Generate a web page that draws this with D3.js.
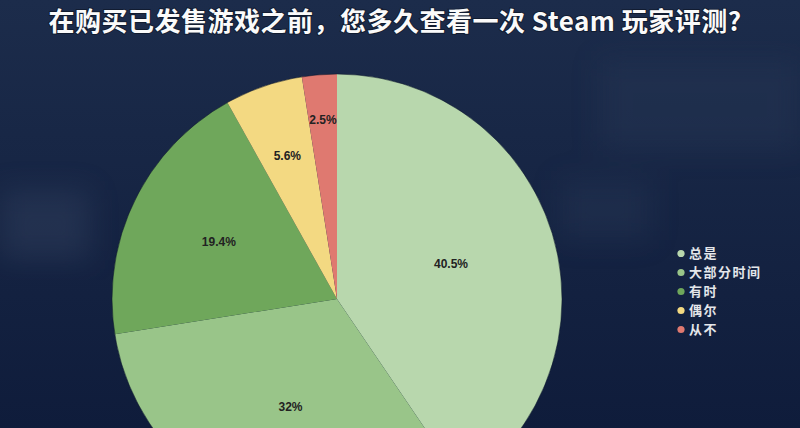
<!DOCTYPE html>
<html lang="zh">
<head>
<meta charset="UTF-8">
<title>Steam 玩家评测</title>
<style>
  body { margin: 0; background: #13213f; }
  svg { display: block; }
  .title { font-family: "Noto Sans CJK SC", "Noto Sans", sans-serif; font-weight: 700; font-size: 26px; letter-spacing: 0.5px; fill: #fafafa; }
  .slice-label { font-family: "Liberation Sans", Arial, sans-serif; font-weight: 700; font-size: 12px; fill: #222; }
  .legend text { font-family: "Noto Sans CJK SC", sans-serif; font-weight: 700; font-size: 13px; letter-spacing: 1.5px; fill: #e4e6ea; }
</style>
</head>
<body>
<script src="https://d3js.org/d3.v7.min.js"></script>
<script>
// data
var categories = ["总是", "大部分时间", "有时", "偶尔", "从不"];
var shares = [40.5, 32, 19.4, 5.6, 2.5];
var colours = ["#b8d7ad", "#99c589", "#6fa75b", "#f3d982", "#df7970"];
var labels = ["40.5%", "32%", "19.4%", "5.6%", "2.5%"];
var titleText = "在购买已发售游戏之前，您多久查看一次 Steam 玩家评测?";

var width = 800, height = 428;
var cx = 337, cy = 299, radius = 225;

var svg = d3.select("body").append("svg")
    .attr("width", width)
    .attr("height", height);

// background: dark navy, a bit blurry
var defs = svg.append("defs");
var bg = defs.append("linearGradient").attr("id", "bg")
    .attr("x1", 0).attr("y1", 0).attr("x2", 0).attr("y2", 1);
bg.append("stop").attr("offset", "0%").attr("stop-color", "#1c2c4b");
bg.append("stop").attr("offset", "100%").attr("stop-color", "#0f1c3b");
defs.append("filter").attr("id", "blur")
  .append("feGaussianBlur").attr("stdDeviation", 14);

svg.append("rect").attr("width", width).attr("height", height).attr("fill", "url(#bg)");
var haze = svg.append("g").attr("filter", "url(#blur)").attr("opacity", 0.35);
haze.append("rect").attr("x", 0).attr("y", 190).attr("width", 90).attr("height", 70).attr("fill", "#3a4a66");
haze.append("rect").attr("x", 600).attr("y", 60).attr("width", 200).attr("height", 90).attr("fill", "#2c3b58");
haze.append("rect").attr("x", 560).attr("y", 180).attr("width", 90).attr("height", 60).attr("fill", "#2a3a58");

// title
svg.append("text")
    .attr("class", "title")
    .attr("x", 395)
    .attr("y", 31)
    .attr("text-anchor", "middle")
    .style("paint-order", "stroke")
    .attr("stroke", "rgba(0,0,0,0.35)")
    .attr("stroke-width", 2)
    .text(titleText);

// pie
var data = categories.map(function(c, i) {
  return { name: c, value: shares[i], colour: colours[i], label: labels[i] };
});

var pie = d3.pie()
    .value(function(d) { return d.value; })
    .sort(null);

var arc = d3.arc().innerRadius(0).outerRadius(radius);

// small slices push their label outward so it fits
var labelRadius = d3.scaleLinear()
    .domain([0.025, 0.056, 0.2, 0.32, 0.4])
    .range([0.80, 0.675, 0.58, 0.52, 0.53])
    .clamp(true);

var g = svg.append("g").attr("transform", "translate(" + cx + "," + cy + ")");
var arcs = pie(data);

g.selectAll("path")
    .data(arcs)
    .enter().append("path")
    .attr("d", arc)
    .attr("fill", function(d) { return d.data.colour; });

g.append("circle")
    .attr("r", radius)
    .attr("fill", "none")
    .attr("stroke", "rgba(10,20,40,0.5)")
    .attr("stroke-width", 1);

g.selectAll(".slice-label")
    .data(arcs)
    .enter().append("text")
    .attr("class", "slice-label")
    .attr("text-anchor", "middle")
    .attr("dy", "0.35em")
    .attr("transform", function(d) {
      var frac = (d.endAngle - d.startAngle) / (2 * Math.PI);
      var r = radius * labelRadius(frac);
      var a = (d.startAngle + d.endAngle) / 2;
      return "translate(" + (r * Math.sin(a)) + "," + (-r * Math.cos(a)) + ")";
    })
    .text(function(d) { return d.data.label; });

// legend
var legendY = d3.scalePoint()
    .domain(categories)
    .range([253.5, 329.5]);

var legend = svg.append("g").attr("class", "legend");
var item = legend.selectAll("g")
    .data(data)
    .enter().append("g")
    .attr("transform", function(d) { return "translate(681," + legendY(d.name) + ")"; });

item.append("circle")
    .attr("r", 3.6)
    .attr("fill", function(d) { return d.colour; });

item.append("text")
    .attr("x", 8)
    .attr("dy", "0.36em")
    .text(function(d) { return d.name; });
</script>
</body>
</html>
